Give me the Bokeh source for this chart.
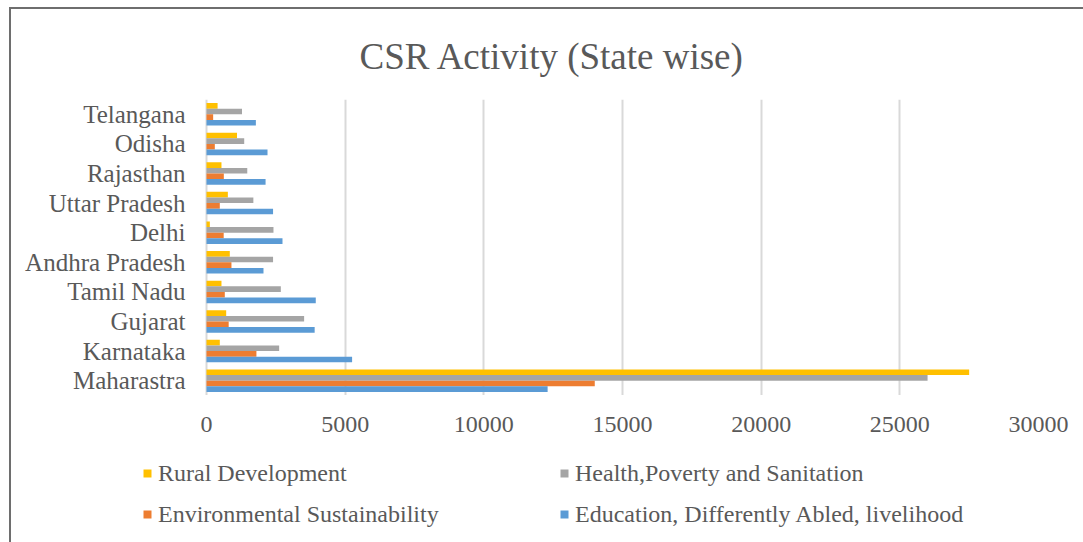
from bokeh.plotting import figure
from bokeh.models import ColumnDataSource, FactorRange, Legend, LegendItem, FixedTicker, Title
from bokeh.transform import dodge
from bokeh.layouts import column
from bokeh.embed import file_html
from bokeh.resources import INLINE

# bottom-to-top order
states = ["Maharastra", "Karnataka", "Gujarat", "Tamil Nadu", "Andhra Pradesh",
          "Delhi", "Uttar Pradesh", "Rajasthan", "Odisha", "Telangana"]
rural = [27500, 480, 710, 540, 840, 120, 770, 540, 1100, 400]
health = [26000, 2620, 3520, 2680, 2400, 2415, 1690, 1470, 1360, 1280]
environ = [14000, 1800, 800, 660, 900, 620, 480, 625, 300, 240]
education = [12300, 5250, 3900, 3940, 2055, 2740, 2400, 2130, 2200, 1780]
x_ticks = [0, 5000, 10000, 15000, 20000, 25000, 30000]

series_names = ["Rural Development", "Health,Poverty and Sanitation",
                "Environmental Sustainability", "Education, Differently Abled, livelihood"]
colors = ["#FFC000", "#A5A5A5", "#ED7D31", "#5B9BD5"]

src = ColumnDataSource(dict(state=states, rural=rural, health=health,
                            environ=environ, education=education))

W = 1072
FRAME_L, ZERO_X, FRAME_R = 115, 195, 1027           # canvas pixels
x_lo = -(ZERO_X - FRAME_L) * 30000 / (FRAME_R - ZERO_X)   # empty margin left of zero
TOP, FH = 90, 296
Q_TOP, Q_FH = 53, 94

# ---- main chart (bars) ----
p = figure(frame_width=FRAME_R - FRAME_L, frame_height=FH,
           y_range=FactorRange(factors=states), x_range=(x_lo, 30000),
           x_axis_location=None, output_backend="svg", toolbar_location=None,
           min_border_left=FRAME_L, min_border_right=W - FRAME_R,
           min_border_top=TOP, min_border_bottom=0)
p.outline_line_color = None
p.background_fill_color = "white"
p.border_fill_color = "white"

offsets = [0.285, 0.095, -0.095, -0.285]
fields = ["rural", "health", "environ", "education"]
for f, off, c in zip(fields, offsets, colors):
    p.hbar(y=dodge("state", off, range=p.y_range), right=f, left=0, height=0.19,
           source=src, fill_color=c, line_color=None)

p.title = Title(text="CSR Activity (State wise)", align="left", offset=233, standoff=44,
                vertical_align="middle",
                text_font="Liberation Serif", text_font_size="37px",
                text_color="#595959", text_font_style="normal")

p.yaxis.axis_line_color = None
p.yaxis.major_tick_line_color = None
p.yaxis.major_tick_out = 0
p.yaxis.major_label_standoff = -(ZERO_X - FRAME_L) + 21
p.yaxis.major_label_text_font = "Liberation Serif"
p.yaxis.major_label_text_font_size = "25px"
p.yaxis.major_label_text_color = "#595959"

p.xgrid.grid_line_color = "#d9d9d9"
p.xgrid.grid_line_width = 2
p.xgrid.ticker = FixedTicker(ticks=x_ticks)
p.ygrid.grid_line_color = None

# ---- lower strip: value axis + legend ----
q = figure(frame_width=FRAME_R - FRAME_L, frame_height=Q_FH, title=None,
           x_range=p.x_range, y_range=(0, 1),
           x_axis_location="above", y_axis_location=None,
           output_backend="svg", toolbar_location=None,
           min_border_left=FRAME_L, min_border_right=W - FRAME_R,
           min_border_top=Q_TOP, min_border_bottom=0)
q.grid.visible = False
q.outline_line_color = None
q.background_fill_color = "white"
q.border_fill_color = "white"

q.xaxis.ticker = FixedTicker(ticks=x_ticks)
q.xaxis.axis_line_color = None
q.xaxis.major_tick_line_color = None
q.xaxis.minor_tick_line_color = None
q.xaxis.major_tick_out = 0
q.xaxis.major_tick_in = 0
q.xaxis.major_label_standoff = 17
q.xaxis.major_label_text_font = "Liberation Sans Narrow"
q.xaxis.major_label_text_font_size = "24px"
q.xaxis.major_label_text_color = "#595959"

# legend proxies: one zero-length bar each, so the swatch is drawn
proxies = [q.hbar(y=[0.5], left=[0], right=[0], height=0.1, fill_color=c, line_color=None)
           for c in colors]
items = [LegendItem(label=n, renderers=[r]) for n, r in zip(series_names, proxies)]
lg = Legend(items=items, location=(16, 14), orientation="horizontal", nrows=2,
            padding=0, margin=0, spacing=13,
            glyph_width=10, glyph_height=10, label_height=28, label_width=388,
            label_standoff=6,
            label_text_font="Liberation Serif", label_text_font_size="24px",
            label_text_color="#595959", border_line_color=None,
            background_fill_alpha=0)
q.add_layout(lg, "center")

layout = column(p, q, spacing=0)
layout.margin = (7, 0, 0, 9)
layout.styles = {"border-left": "2px solid #6e6e6e", "border-top": "2px solid #6e6e6e"}

open("out.html", "w").write(file_html(layout, INLINE))
